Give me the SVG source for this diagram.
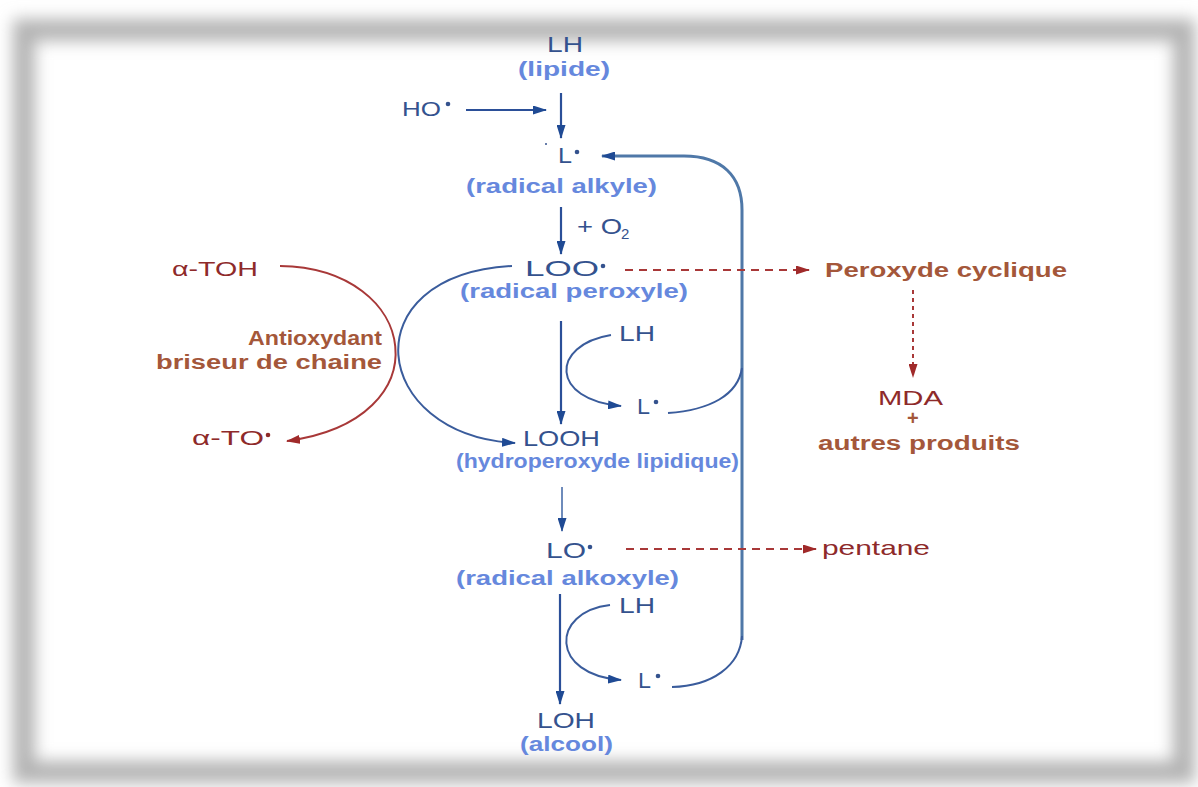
<svg xmlns="http://www.w3.org/2000/svg" width="1198" height="787" viewBox="0 0 1198 787">
<style>
.t{font-family:"Liberation Sans",Arial,sans-serif}
.dk{fill:#34528e;font-size:22px}
.lt{fill:#6688dd;font-size:20px;font-weight:bold}
.rd{fill:#8e2a2a;font-size:19px}
.br{fill:#a4573a;font-size:20px;font-weight:bold}
.bl{fill:none;stroke:#2b4f98;stroke-width:2.2}
.cv{fill:none;stroke:#3a5c9c;stroke-width:2}
.rl{fill:none;stroke:#a83838;stroke-width:2}
</style>
<defs>
<filter id="blur" x="-5%" y="-5%" width="110%" height="110%"><feGaussianBlur stdDeviation="8"/></filter>
<marker id="ab" markerWidth="14" markerHeight="9" refX="13" refY="4.5" orient="auto" markerUnits="userSpaceOnUse"><path d="M0,0 L14,4.5 L0,9 z" fill="#1f4a94"/></marker>
<marker id="ar" markerWidth="14" markerHeight="9" refX="13" refY="4.5" orient="auto" markerUnits="userSpaceOnUse"><path d="M0,0 L14,4.5 L0,9 z" fill="#a02a2a"/></marker>
</defs>
<rect width="1198" height="787" fill="#fff"/>
<rect x="24" y="30" width="1160" height="742" fill="none" stroke="#b4b4b4" stroke-width="22" filter="url(#blur)"/>

<g id="connectors">
<line class="bl" x1="466" y1="110" x2="546" y2="110" marker-end="url(#ab)"/>
<line class="bl" x1="561" y1="93" x2="561" y2="138" marker-end="url(#ab)"/>
<line class="bl" x1="561" y1="207" x2="561" y2="254" marker-end="url(#ab)"/>
<line class="bl" x1="561" y1="321" x2="561" y2="424" marker-end="url(#ab)"/>
<line x1="562" y1="487" x2="562" y2="531" stroke="#4a6eaa" stroke-width="1.6" marker-end="url(#ab)"/>
<line class="bl" x1="560" y1="594" x2="560" y2="704" marker-end="url(#ab)"/>
<path d="M742,640 V210 C742,176 722,156 684,156 H602" fill="none" stroke="#4f78a8" stroke-width="3" marker-end="url(#ab)"/>
<path class="cv" d="M668,413 C710,410 738,395 742,368"/>
<path class="cv" d="M672,687 C712,686 740,666 742,636"/>
<path class="cv" d="M611,335 C550,345 550,400 621,406" marker-end="url(#ab)"/>
<path class="cv" d="M610,605 C550,612 550,675 621,680" marker-end="url(#ab)"/>
<path class="cv" d="M512,266 C350,275 370,435 515,443" marker-end="url(#ab)"/>
<path class="rl" d="M280,266 C420,268 445,420 287,441" marker-end="url(#ar)"/>
<line class="rl" x1="625" y1="270" x2="809" y2="270" stroke-dasharray="8,6" marker-end="url(#ar)"/>
<line class="rl" x1="626" y1="549" x2="816" y2="549" stroke-dasharray="8,6" marker-end="url(#ar)"/>
<line class="rl" x1="913" y1="290" x2="913" y2="377" stroke-dasharray="4,4" marker-end="url(#ar)"/>
</g>

<g id="lh-top"><text class="t dk" x="547" y="52" textLength="36" lengthAdjust="spacingAndGlyphs">LH</text>
<text class="t lt" x="518" y="76" textLength="92" lengthAdjust="spacingAndGlyphs">(lipide)</text></g>
<g id="ho"><text class="t dk" x="402" y="116" style="font-size:20px" textLength="39" lengthAdjust="spacingAndGlyphs">HO</text>
<circle cx="448" cy="104" r="2.3" fill="#34528e"/></g>
<g id="l-alkyle"><circle cx="546" cy="144" r="1" fill="#34528e"/>
<text class="t dk" x="558" y="163" textLength="14" lengthAdjust="spacingAndGlyphs">L</text>
<circle cx="577" cy="152" r="2.3" fill="#34528e"/>
<text class="t lt" x="466" y="193" textLength="191" lengthAdjust="spacingAndGlyphs">(radical alkyle)</text></g>
<g id="o2"><text class="t dk" x="577" y="234" textLength="45" lengthAdjust="spacingAndGlyphs">+ O</text>
<text class="t dk" x="621" y="239" style="font-size:15px">2</text></g>
<g id="loo"><text class="t dk" x="525" y="276" textLength="74" lengthAdjust="spacingAndGlyphs">LOO</text>
<circle cx="603" cy="266" r="2.3" fill="#34528e"/>
<text class="t lt" x="460" y="298" textLength="228" lengthAdjust="spacingAndGlyphs">(radical peroxyle)</text></g>
<g id="peroxyde"><text class="t br" x="825" y="277" textLength="242" lengthAdjust="spacingAndGlyphs">Peroxyde cyclique</text></g>
<g id="mda"><text class="t rd" x="878" y="405" style="font-size:21px" textLength="65" lengthAdjust="spacingAndGlyphs">MDA</text>
<text class="t br" x="907" y="425">+</text>
<text class="t br" x="818" y="450" textLength="202" lengthAdjust="spacingAndGlyphs">autres produits</text></g>
<g id="atoh"><text class="t rd" x="172" y="276" style="font-size:20px" textLength="86" lengthAdjust="spacingAndGlyphs">α-TOH</text></g>
<g id="ato"><text class="t rd" x="192" y="445" style="font-size:20px" textLength="72" lengthAdjust="spacingAndGlyphs">α-TO</text>
<circle cx="268" cy="435" r="2.3" fill="#8e2a2a"/></g>
<g id="antiox"><text class="t br" x="382" y="345" text-anchor="end" textLength="134" lengthAdjust="spacingAndGlyphs">Antioxydant</text>
<text class="t br" x="382" y="369" text-anchor="end" textLength="226" lengthAdjust="spacingAndGlyphs">briseur de chaine</text></g>
<g id="looh"><text class="t dk" x="523" y="446" textLength="77" lengthAdjust="spacingAndGlyphs">LOOH</text>
<text class="t lt" x="456" y="468" textLength="283" lengthAdjust="spacingAndGlyphs">(hydroperoxyde lipidique)</text></g>
<g id="lh-mid"><text class="t dk" x="619" y="341" textLength="36" lengthAdjust="spacingAndGlyphs">LH</text></g>
<g id="l-mid"><text class="t dk" x="637" y="414" textLength="13" lengthAdjust="spacingAndGlyphs">L</text>
<circle cx="656" cy="402" r="2.3" fill="#34528e"/></g>
<g id="lo"><text class="t dk" x="546" y="558" textLength="40" lengthAdjust="spacingAndGlyphs">LO</text>
<circle cx="590" cy="547" r="2.3" fill="#34528e"/>
<text class="t lt" x="456" y="585" textLength="223" lengthAdjust="spacingAndGlyphs">(radical alkoxyle)</text></g>
<g id="pentane"><text class="t rd" x="822" y="555" style="font-size:21px" textLength="108" lengthAdjust="spacingAndGlyphs">pentane</text></g>
<g id="lh-low"><text class="t dk" x="619" y="613" textLength="36" lengthAdjust="spacingAndGlyphs">LH</text></g>
<g id="l-low"><text class="t dk" x="638" y="688" textLength="13" lengthAdjust="spacingAndGlyphs">L</text>
<circle cx="658" cy="676" r="2.3" fill="#34528e"/></g>
<g id="loh"><text class="t dk" x="537" y="728" textLength="58" lengthAdjust="spacingAndGlyphs">LOH</text>
<text class="t lt" x="520" y="751" textLength="93" lengthAdjust="spacingAndGlyphs">(alcool)</text></g>
</svg>
